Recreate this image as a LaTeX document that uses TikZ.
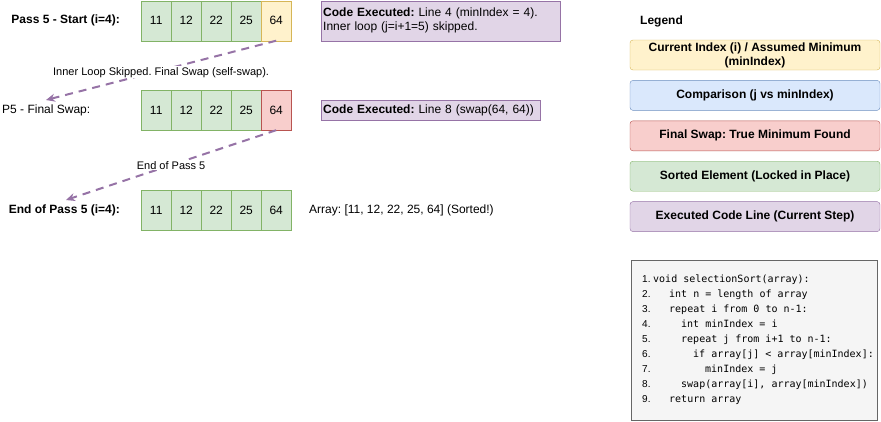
\documentclass[tikz,border=0pt]{standalone}
\usepackage{fontspec}
\setmainfont{Liberation Sans}
\setmonofont{DejaVu Sans Mono}
\usepackage{xcolor}
\usepackage{tikz}
\usetikzlibrary{positioning, arrows.meta, matrix}
\frenchspacing
\definecolor{okFill}{HTML}{D5E8D4}
\definecolor{okLine}{HTML}{82B366}
\definecolor{curFill}{HTML}{FFF2CC}
\definecolor{curLine}{HTML}{D6B656}
\definecolor{cmpFill}{HTML}{DAE8FC}
\definecolor{cmpLine}{HTML}{6C8EBF}
\definecolor{swpFill}{HTML}{F8CECC}
\definecolor{swpLine}{HTML}{B85450}
\definecolor{exeFill}{HTML}{E1D5E7}
\definecolor{exeLine}{HTML}{9673A6}
\definecolor{codeFill}{HTML}{F5F5F5}
\definecolor{codeLine}{HTML}{666666}
\newcommand{\fsbody}{\fontsize{12}{14}\selectfont}
\newcommand{\fsedge}{\fontsize{11}{13}\selectfont}
\newcommand{\fscode}{\fontsize{10}{14}\selectfont}
\tikzset{
    arr/.style={
        matrix of nodes,
        nodes={
            draw=okLine,
            fill=okFill,
            minimum width=30pt,
            minimum height=40pt,
            anchor=center,
            inner sep=0pt,
            font=\fsbody
        },
        column sep=-\pgflinewidth,
        inner sep=0pt,
        outer sep=0pt,
        anchor=north west
    },
    cur/.style={draw=curLine, fill=curFill},
    swp/.style={draw=swpLine, fill=swpFill},
    passlabel/.style={font=\fsbody\bfseries, inner sep=0pt},
    plainlabel/.style={font=\fsbody, inner sep=0pt},
    exebox/.style={rectangle, draw=exeLine, fill=exeFill, align=left, font=\fsbody, inner sep=2pt, anchor=north west},
    legbox/.style={rectangle, draw, rounded corners=3pt, minimum width=250pt, minimum height=30pt, align=center, font=\fsbody\bfseries, inner sep=1pt},
    codebg/.style={rectangle, draw=codeLine, fill=codeFill, minimum width=246pt, minimum height=160pt, anchor=north west},
    codeno/.style={font=\fscode, anchor=base west, inner sep=0pt},
    codeline/.style={font=\fscode\ttfamily, anchor=base west, inner sep=0pt},
    flow/.style={-{Stealth[length=9pt, width=8pt]}, draw=exeLine, line width=2pt, dash pattern=on 8pt off 6pt},
    flowlabel/.style={font=\fsedge, fill=white, inner sep=1pt}
}
\begin{document}
\begin{tikzpicture}[x=1pt, y=-1pt]
    \useasboundingbox (0,0) rectangle (881,421);

    % Pass 5 start
    \node[passlabel, anchor=east] (lblStart) at (120,20) {Pass 5 - Start (i=4):};
    \matrix[arr] (row1) at (141,0.5) {11 & 12 & 22 & 25 & |[cur]| 64 \\};
    \node[exebox, text width=235pt, minimum height=40pt] (exe1) at (321,0.5)
        {\textbf{Code Executed:} Line 4 (minIndex = 4).\\Inner loop (j=i+1=5) skipped.};

    % Final swap
    \node[plainlabel, anchor=west] (lblSwap) at (2,110) {P5 - Final Swap:};
    \matrix[arr] (row2) at (141,90) {11 & 12 & 22 & 25 & |[swp]| 64 \\};
    \node[exebox, text width=215pt, minimum height=20pt] (exe2) at (321,100)
        {\textbf{Code Executed:} Line 8 (swap(64, 64))};

    % End of pass
    \node[passlabel, anchor=east] (lblEnd) at (120,210) {End of Pass 5 (i=4):};
    \matrix[arr] (row3) at (141,190) {11 & 12 & 22 & 25 & 64 \\};
    \node[plainlabel, anchor=west] (sorted) at (309,210) {Array: [11, 12, 22, 25, 64] (Sorted!)};

    % Flow arrows
    \coordinate (tip1) at (46,100);
    \coordinate (tip2) at (66,200);
    \draw[flow] (row1-1-5.south) -- node[flowlabel, yshift=-2pt] (flow1) {Inner Loop Skipped. Final Swap (self-swap).} (tip1);
    \draw[flow] (row2-1-5.south) -- node[flowlabel] (flow2) {End of Pass 5} (tip2);

    % Legend
    \node[passlabel, anchor=west] (legTitle) at (640,21) {Legend};
    \node[legbox, draw=curLine, fill=curFill] (legCur) at (755,55) {Current Index (i) / Assumed Minimum\\(minIndex)};
    \node[legbox, draw=cmpLine, fill=cmpFill, below=10pt of legCur] (legCmp) {Comparison (j vs minIndex)};
    \node[legbox, draw=swpLine, fill=swpFill, below=10pt of legCmp] (legSwp) {Final Swap: True Minimum Found};
    \node[legbox, draw=okLine, fill=okFill, below=10pt of legSwp] (legOk) {Sorted Element (Locked in Place)};
    \node[legbox, draw=exeLine, fill=exeFill, below=10pt of legOk] (legExe) {Executed Code Line (Current Step)};

    % Pseudocode
    \node[codebg] (codeBox) at (630.5,260) {};
    \foreach \i/\x/\txt in {
        1/653/{void selectionSort(array):},
        2/669/{int n = length of array},
        3/669/{repeat i from 0 to n-1:},
        4/681/{int minIndex = i},
        5/681/{repeat j from i+1 to n-1:},
        6/693/{if array[j] < array[minIndex]:},
        7/705/{minIndex = j},
        8/681/{swap(array[i], array[minIndex])},
        9/669/{return array}} {
        \node[codeno] (num\i) at (642, 282 + \i*15.1 - 15.1) {\i.};
        \node[codeline] (code\i) at (\x, 282 + \i*15.1 - 15.1) {\txt};
    }

\end{tikzpicture}
\end{document}
